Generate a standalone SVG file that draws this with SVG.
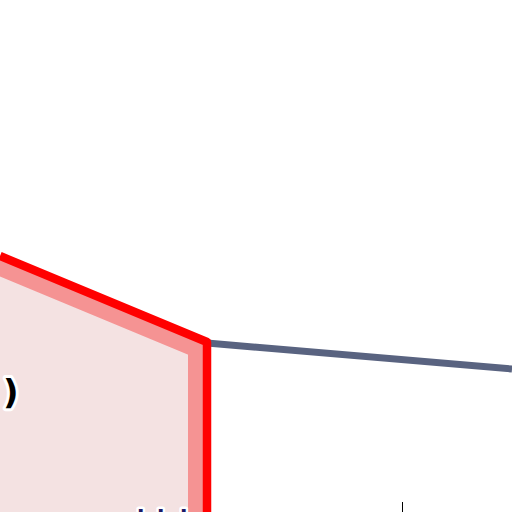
<svg xmlns="http://www.w3.org/2000/svg" width="512" height="512" viewBox="0 0 512 512">
<style>
.halo{paint-order:stroke fill;stroke:#ffffff;stroke-linejoin:round;font-family:"DejaVu Sans",sans-serif;font-weight:bold}
</style>
<defs>
<clipPath id="inside"><polygon points="0,256 207,342 207,512 0,512"/></clipPath>
</defs>
<rect width="512" height="512" fill="#ffffff"/>
<g id="region">
<polygon points="0,256 207,342 207,512 0,512" fill="#f4e2e2"/>
<polyline points="0,256 207,342 207,512" fill="none" stroke="#f59393" stroke-width="38" clip-path="url(#inside)"/>
</g>
<g id="connectors">
<line x1="207" y1="343" x2="512" y2="369" stroke="#596380" stroke-width="7"/>
<line x1="402.5" y1="502" x2="402.5" y2="512" stroke="#000000" stroke-width="1"/>
</g>
<g id="border">
<polyline points="0,256 207,342 207,512" fill="none" stroke="#ff0000" stroke-width="8.5" stroke-linejoin="round"/>
</g>
<g id="labels">
<text class="halo" x="3" y="404" font-size="34" stroke-width="6" fill="#000000">)</text>
<text class="halo" x="137 157 180" y="523" font-size="20" stroke-width="5" fill="#1a1a66">III</text>
</g>
</svg>
